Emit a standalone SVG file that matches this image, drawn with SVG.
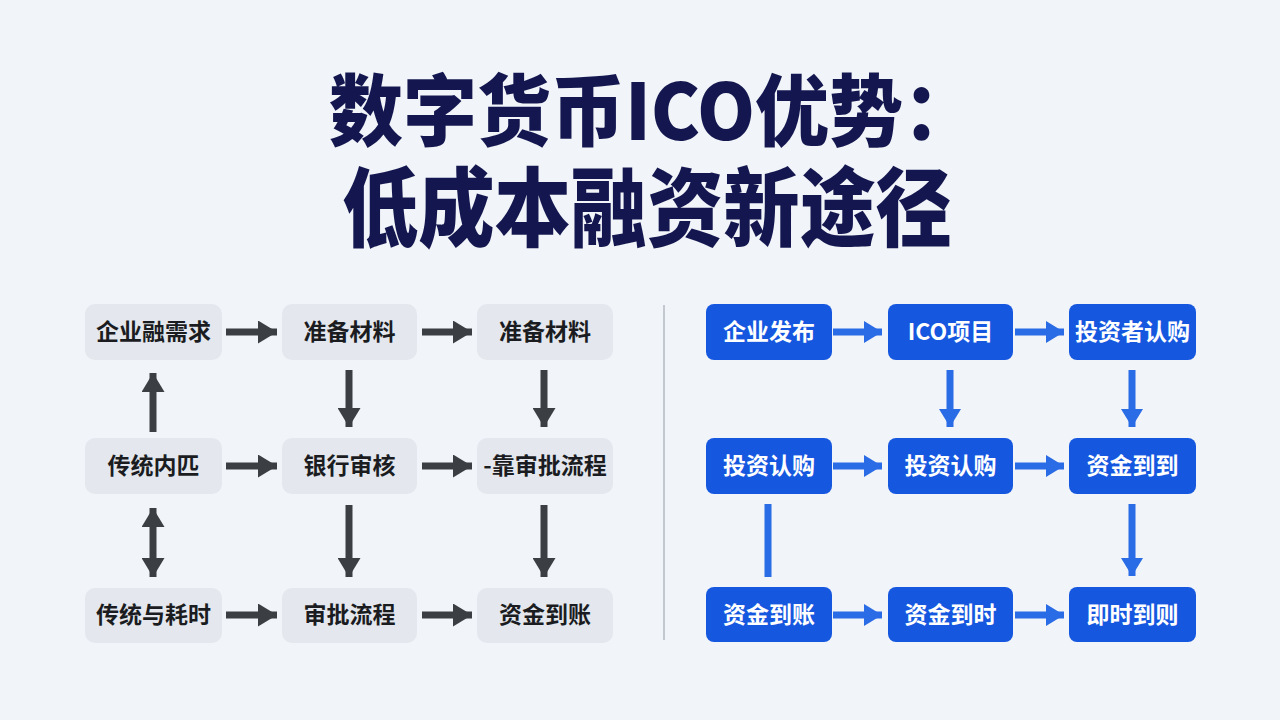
<svg xmlns="http://www.w3.org/2000/svg" width="1280" height="720" viewBox="0 0 1280 720">
<defs>
<style>
.title{font-family:"Noto Sans CJK SC","Noto Sans",sans-serif;font-weight:900;fill:#14174f;text-anchor:middle}
.lbox{fill:#e4e8ee}
.rbox{fill:#1657e0}
.lt{font-family:"Noto Sans CJK SC","Noto Sans",sans-serif;font-weight:700;font-size:23px;fill:#1b1c1f;text-anchor:middle}
.rt{font-family:"Noto Sans CJK SC","Noto Sans",sans-serif;font-weight:700;font-size:23px;fill:#ffffff;text-anchor:middle}
.la{stroke:#3b3e43;stroke-width:7;fill:none}
.ra{stroke:#2a6be6;stroke-width:7;fill:none}
</style>
<marker id="ah" markerUnits="userSpaceOnUse" markerWidth="19" markerHeight="23" viewBox="0 0 19 23" refX="19" refY="11.5" orient="auto-start-reverse">
<path d="M0,0 L19,11.5 L0,23 Z" fill="#3b3e43"/>
</marker>
<marker id="bh" markerUnits="userSpaceOnUse" markerWidth="18" markerHeight="22" viewBox="0 0 18 22" refX="18" refY="11" orient="auto">
<path d="M0,0 L18,11 L0,22 Z" fill="#2a6be6"/>
</marker>
</defs>
<rect width="1280" height="720" fill="#f1f4f8"/>
<g id="title">
<text class="title" x="653" y="140" font-size="78" textLength="648" lengthAdjust="spacingAndGlyphs">数字货币ICO优势：</text>
<text class="title" x="647" y="240" font-size="86" textLength="610" lengthAdjust="spacingAndGlyphs">低成本融资新途径</text>
</g>
<line id="divider" x1="664" y1="305" x2="664" y2="640" stroke="#c3c8d0" stroke-width="2"/>
<g id="connectors">
<line class="la" x1="226" y1="332" x2="277" y2="332" marker-end="url(#ah)"/>
<line class="la" x1="422" y1="332" x2="472" y2="332" marker-end="url(#ah)"/>
<line class="la" x1="226" y1="466" x2="277" y2="466" marker-end="url(#ah)"/>
<line class="la" x1="422" y1="466" x2="472" y2="466" marker-end="url(#ah)"/>
<line class="la" x1="226" y1="615" x2="277" y2="615" marker-end="url(#ah)"/>
<line class="la" x1="422" y1="615" x2="472" y2="615" marker-end="url(#ah)"/>
<line class="la" x1="153" y1="432" x2="153" y2="373" marker-end="url(#ah)"/>
<line class="la" x1="153" y1="508" x2="153" y2="577" marker-start="url(#ah)" marker-end="url(#ah)"/>
<line class="la" x1="349" y1="370" x2="349" y2="427" marker-end="url(#ah)"/>
<line class="la" x1="349" y1="505" x2="349" y2="577" marker-end="url(#ah)"/>
<line class="la" x1="544" y1="370" x2="544" y2="427" marker-end="url(#ah)"/>
<line class="la" x1="544" y1="505" x2="544" y2="577" marker-end="url(#ah)"/>
<line class="ra" x1="833" y1="332" x2="882" y2="332" marker-end="url(#bh)"/>
<line class="ra" x1="1015" y1="332" x2="1064" y2="332" marker-end="url(#bh)"/>
<line class="ra" x1="833" y1="466" x2="882" y2="466" marker-end="url(#bh)"/>
<line class="ra" x1="1015" y1="466" x2="1064" y2="466" marker-end="url(#bh)"/>
<line class="ra" x1="833" y1="615" x2="882" y2="615" marker-end="url(#bh)"/>
<line class="ra" x1="1015" y1="615" x2="1064" y2="615" marker-end="url(#bh)"/>
<line class="ra" x1="950" y1="370" x2="950" y2="427" marker-end="url(#bh)"/>
<line class="ra" x1="1132" y1="370" x2="1132" y2="427" marker-end="url(#bh)"/>
<line class="ra" x1="1132" y1="504" x2="1132" y2="576" marker-end="url(#bh)"/>
<line class="ra" x1="768" y1="504" x2="768" y2="577" stroke-width="8"/>
</g>
<g id="l11"><rect class="lbox" x="85" y="304" width="137" height="56" rx="10"/><text class="lt" x="153.5" y="340">企业融需求</text></g>
<g id="l12"><rect class="lbox" x="282" y="304" width="135" height="56" rx="10"/><text class="lt" x="349.5" y="340">准备材料</text></g>
<g id="l13"><rect class="lbox" x="477" y="304" width="136" height="56" rx="10"/><text class="lt" x="545" y="340">准备材料</text></g>
<g id="l21"><rect class="lbox" x="85" y="438" width="137" height="56" rx="10"/><text class="lt" x="153.5" y="474">传统内匹</text></g>
<g id="l22"><rect class="lbox" x="282" y="438" width="135" height="56" rx="10"/><text class="lt" x="349.5" y="474">银行审核</text></g>
<g id="l23"><rect class="lbox" x="477" y="438" width="136" height="56" rx="10"/><text class="lt" x="545" y="474">-靠审批流程</text></g>
<g id="l31"><rect class="lbox" x="85" y="588" width="137" height="55" rx="10"/><text class="lt" x="153.5" y="623">传统与耗时</text></g>
<g id="l32"><rect class="lbox" x="282" y="588" width="135" height="55" rx="10"/><text class="lt" x="349.5" y="623">审批流程</text></g>
<g id="l33"><rect class="lbox" x="477" y="588" width="136" height="55" rx="10"/><text class="lt" x="545" y="623">资金到账</text></g>
<g id="r11"><rect class="rbox" x="706" y="304" width="126" height="56" rx="8"/><text class="rt" x="769" y="340">企业发布</text></g>
<g id="r12"><rect class="rbox" x="888" y="304" width="125" height="56" rx="8"/><text class="rt" x="950.5" y="340">ICO项目</text></g>
<g id="r13"><rect class="rbox" x="1069" y="304" width="127" height="56" rx="8"/><text class="rt" x="1132.5" y="340">投资者认购</text></g>
<g id="r21"><rect class="rbox" x="706" y="438" width="126" height="56" rx="8"/><text class="rt" x="769" y="474">投资认购</text></g>
<g id="r22"><rect class="rbox" x="888" y="438" width="125" height="56" rx="8"/><text class="rt" x="950.5" y="474">投资认购</text></g>
<g id="r23"><rect class="rbox" x="1069" y="438" width="127" height="56" rx="8"/><text class="rt" x="1132.5" y="474">资金到到</text></g>
<g id="r31"><rect class="rbox" x="706" y="587" width="126" height="55" rx="8"/><text class="rt" x="769" y="623">资金到账</text></g>
<g id="r32"><rect class="rbox" x="888" y="587" width="125" height="55" rx="8"/><text class="rt" x="950.5" y="623">资金到时</text></g>
<g id="r33"><rect class="rbox" x="1069" y="587" width="127" height="55" rx="8"/><text class="rt" x="1132.5" y="623">即时到则</text></g>
</svg>
